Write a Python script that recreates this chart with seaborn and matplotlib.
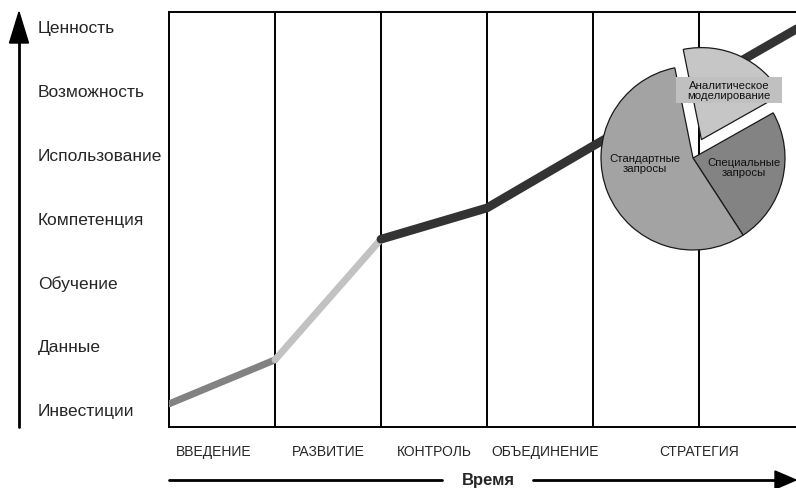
import matplotlib
matplotlib.use("Agg")
import matplotlib.pyplot as plt
from matplotlib.patches import Polygon, Rectangle
from matplotlib.lines import Line2D
import seaborn as sns
import pandas as pd

# --- data -----------------------------------------------------------------
levels = ["Инвестиции", "Данные", "Обучение", "Компетенция",
          "Использование", "Возможность", "Ценность"]
stages = ["ВВЕДЕНИЕ", "РАЗВИТИЕ", "КОНТРОЛЬ", "ОБЪЕДИНЕНИЕ", "СТРАТЕГИЯ"]

# maturity path: stage position -> level value, split in three phases
seg_start_x = [0, 1]
seg_start_y = [0.08, 0.77]
seg_grow_x = [1, 2]
seg_grow_y = [0.77, 2.66]
seg_mature_x = [2, 3, 4, 6]
seg_mature_y = [2.66, 3.15, 4.12, 6.03]

pie_labels = ["Специальные\nзапросы", "Аналитическое\nмоделирование",
              "Стандартные\nзапросы"]
pie_shares = [24, 20, 56]

# --- figure ---------------------------------------------------------------
sns.set_style("white")
plt.rcParams["font.family"] = ["Liberation Sans", "DejaVu Sans"]

W, H = 796, 489
fig = plt.figure(figsize=(W / 100, H / 100), dpi=100)

def px_box(x0, y0, x1, y1):
    """Rectangle from image pixel coords (top-left origin) to figure fraction."""
    return [x0 / W, (H - y1) / H, (x1 - x0) / W, (y1 - y0) / H]

ax = fig.add_axes(px_box(169, 13, 796, 428))

col_w = 106.0
ax.set_xlim(0, (796 - 169) / col_w)
step = (410 - 27) / 6.0
ax.set_ylim(-(428 - 410) / step, (410 - 13) / step)

# stage separators
for b in range(1, 6):
    ax.axvline(b, color="black", lw=1.4, zorder=1)

frames = [
    (seg_start_x, seg_start_y, "#828282", 5.0),
    (seg_grow_x, seg_grow_y, "#c2c2c2", 5.0),
    (seg_mature_x, seg_mature_y, "#333333", 6.3),
]
for xs, ys, col, lw in frames:
    df = pd.DataFrame({"x": xs, "y": ys})
    sns.lineplot(data=df, x="x", y="y", ax=ax, color=col, linewidth=lw,
                 sort=False, solid_capstyle="round", zorder=3)

# spines: frame on top, left, bottom
for side in ["top", "left", "bottom"]:
    ax.spines[side].set_visible(True)
    ax.spines[side].set_color("black")
    ax.spines[side].set_linewidth(1.4)
ax.spines["right"].set_visible(False)

ax.set_yticks(range(len(levels)))
ax.set_yticklabels(levels, fontsize=12.5)
for lab in ax.get_yticklabels():
    lab.set_horizontalalignment("left")
ax.tick_params(axis="y", length=0, pad=(169 - 38) * 0.72)

ax.set_xticks([0.42, 1.5, 2.5, 3.55, 5.0])
ax.set_xticklabels(stages, fontsize=10)
ax.tick_params(axis="x", length=0, pad=12)
ax.set_xlabel("")
ax.set_ylabel("")

# --- value arrow (left) and time arrow (bottom) ------------------------------
fig.add_artist(Line2D([19 / W, 19 / W], [(H - 428) / H, (H - 40) / H],
                      color="black", lw=2))
fig.add_artist(Polygon(
    [(9.5 / W, (H - 44) / H), (28.5 / W, (H - 44) / H), (19 / W, (H - 13) / H)],
    closed=True, color="black"))

y_t = (H - 481) / H
fig.add_artist(Line2D([169 / W, 442 / W], [y_t, y_t], color="black", lw=2))
fig.add_artist(Line2D([533 / W, 778 / W], [y_t, y_t], color="black", lw=2))
fig.add_artist(Polygon(
    [(775 / W, (H - 472) / H), (775 / W, (H - 490) / H), (796 / W, y_t)],
    closed=True, color="black"))
fig.text(488 / W, y_t, "Время", ha="center", va="center",
         fontsize=12, fontweight="bold")

# --- usage pie ---------------------------------------------------------------
cx, cy, r = 693, 159, 92
half = 120
pax = fig.add_axes(px_box(cx - half, cy - half, cx + half, cy + half))
pax.set_facecolor("none")
wedges, _ = pax.pie(pie_shares, startangle=-57, counterclock=True,
                    colors=["#838383", "#c6c6c6", "#a3a3a3"],
                    explode=[0, 0.22, 0],
                    wedgeprops=dict(edgecolor="#1a1a1a", linewidth=0.9))
lim = half / r
pax.set_xlim(-lim, lim)
pax.set_ylim(-lim, lim)
pax.set_aspect("equal")
pax.axis("off")

txt_kw = dict(ha="center", va="center", fontsize=8.2, linespacing=1.0,
              color="#111111")
pax.text(-0.52, -0.05, pie_labels[2], **txt_kw)
pax.text(0.55, -0.1, pie_labels[0], **txt_kw)
pax.add_patch(Rectangle((-0.185, 0.598), 1.152, 0.282,
                        facecolor="#c0c0c0", edgecolor="none", zorder=4))
pax.text(0.39, 0.74, pie_labels[1], zorder=5, **txt_kw)

fig.savefig("out.png", dpi=100)
